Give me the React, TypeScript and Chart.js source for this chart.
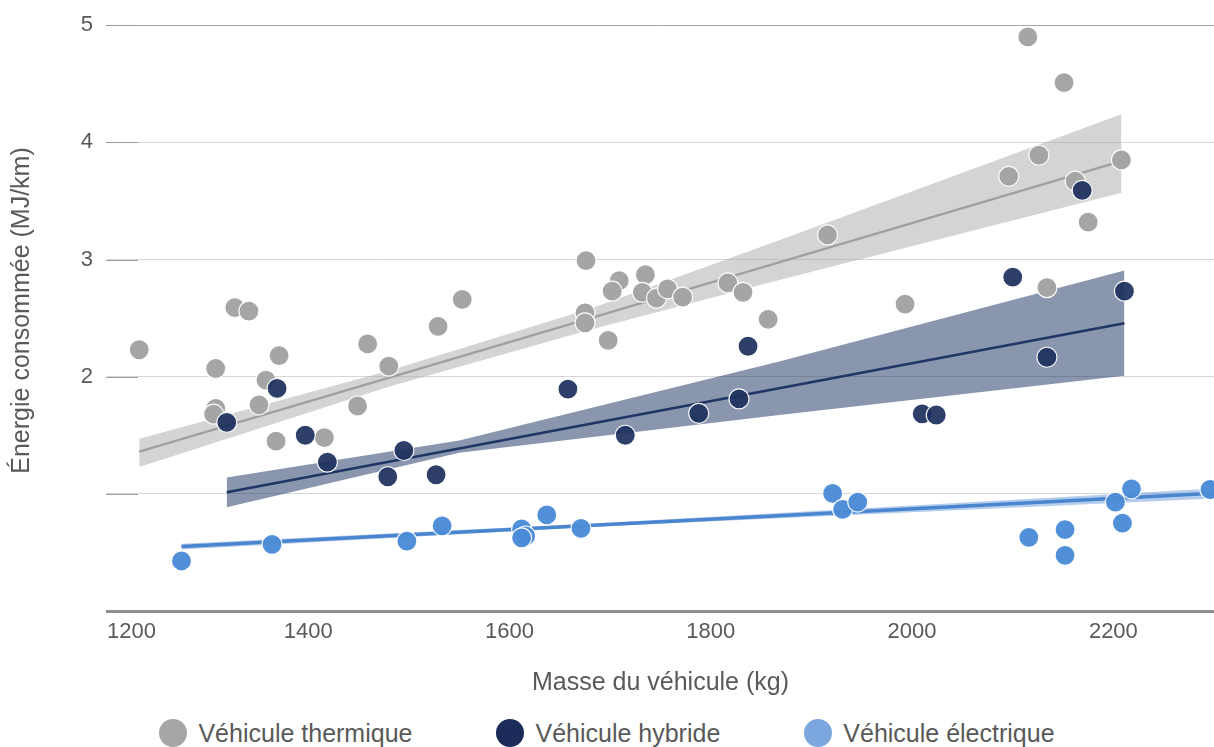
import React, { useEffect, useRef } from "react";
import { Chart, registerables } from "chart.js";

Chart.register(...registerables);

const FONT = '"Liberation Sans", Arial, sans-serif';

// ---- axis ticks ----
const xTicks = [1200, 1400, 1600, 1800, 2000, 2200];
const yTicks = [0, 1, 2, 3, 4, 5];
const yLabelled = [2, 3, 4, 5];

// ---- series names ----
const seriesNames = ["Véhicule thermique", "Véhicule hybride", "Véhicule électrique"];

// ---- thermique points ----
const thermX = [1232, 1327, 1341, 1308, 1371, 1358, 1308, 1306, 1351, 1368, 1459, 1480, 1449, 1416, 1529, 1553,
  1676, 1709, 1702, 1735, 1732, 1746, 1757, 1772, 1817, 1832, 1857, 1675, 1675, 1698, 1916, 1993,
  2096, 2115, 2126, 2134, 2151, 2162, 2175, 2208];
const thermY = [2.23, 2.59, 2.56, 2.07, 2.18, 1.97, 1.73, 1.68, 1.76, 1.45, 2.28, 2.09, 1.75, 1.48, 2.43, 2.66,
  2.99, 2.82, 2.73, 2.87, 2.72, 2.67, 2.75, 2.68, 2.80, 2.72, 2.49, 2.545, 2.46, 2.31, 3.21, 2.62,
  3.71, 4.90, 3.89, 2.76, 4.51, 3.67, 3.32, 3.85];

// ---- hybride points ----
const hybX = [1319, 1369, 1397, 1419, 1479, 1495, 1527, 1658, 1715, 1788, 1828, 1837, 2010, 2024, 2100, 2134, 2169, 2211];
const hybY = [1.61, 1.90, 1.50, 1.27, 1.146, 1.37, 1.163, 1.894, 1.50, 1.687, 1.81, 2.26, 1.683, 1.673, 2.85, 2.166, 3.59, 2.73];

// ---- électrique points ----
const elecX = [1274, 1364, 1498, 1533, 1612, 1616, 1612, 1637, 1671, 1921, 1931, 1946, 2116, 2152, 2152, 2202, 2209, 2218, 2296];
const elecY = [0.427, 0.569, 0.597, 0.727, 0.70, 0.64, 0.625, 0.82, 0.705, 1.004, 0.867, 0.93, 0.629, 0.694, 0.475, 0.929, 0.75, 1.043, 1.037];

// ---- regression lines ----
const thermLineX = [1232, 2208];
const thermLineY = [1.36, 3.84];
const hybLineX = [1319, 2211];
const hybLineY = [1.013, 2.456];
const elecLineX = [1274, 2300];
const elecLineY = [0.55, 1.005];

// ---- confidence bands ----
const thermBandX = [1232, 1480, 1680, 1870, 2208];
const thermBandUpper = [1.47, 2.05, 2.58, 3.17, 4.24];
const thermBandLower = [1.23, 1.915, 2.40, 2.83, 3.57];
const hybBandX = [1319, 1550, 1868, 2211];
const hybBandUpper = [1.14, 1.455, 2.13, 2.906];
const hybBandLower = [0.885, 1.35, 1.673, 2.009];
const elecBandX = [1274, 1700, 2300];
const elecBandUpper = [0.575, 0.755, 1.045];
const elecBandLower = [0.525, 0.725, 0.96];

const pts = (xs: number[], ys: number[]) => xs.map((x, i) => ({ x, y: ys[i] }));

const COL_THERM = "#a5a5a5";
const COL_HYB = "rgba(29,47,94,0.93)";
const COL_ELEC = "rgba(74,139,214,0.96)";
const legendColors = ["#a6a6a6", "#1b2c5a", "#7ba7de"];

const scatterDs = (label: string, xs: number[], ys: number[], color: string, order: number) => ({
  type: "scatter" as const,
  label,
  data: pts(xs, ys),
  backgroundColor: color,
  borderColor: "rgba(255,255,255,0.95)",
  borderWidth: 1.2,
  pointRadius: 10,
  pointHoverRadius: 10,
  order,
});

const lineDs = (xs: number[], ys: number[], color: string, width: number) => ({
  type: "line" as const,
  label: "",
  data: pts(xs, ys),
  borderColor: color,
  borderWidth: width,
  pointRadius: 0,
  fill: false,
  tension: 0,
  order: 10,
});

const bandDs = (xs: number[], ys: number[], color: string, fill: number | boolean) => ({
  type: "line" as const,
  label: "",
  data: pts(xs, ys),
  borderWidth: 0,
  borderColor: "rgba(0,0,0,0)",
  backgroundColor: color,
  pointRadius: 0,
  fill,
  tension: 0,
  order: 20,
});

const tickMarks = {
  id: "tickMarks",
  beforeDatasetsDraw(chart: any) {
    const { ctx, chartArea, scales } = chart;
    const y = scales.y;
    ctx.save();
    ctx.strokeStyle = "#9c9c9c";
    ctx.lineWidth = 1;
    yTicks.filter((v) => v > 0).forEach((v) => {
      const py = Math.round(y.getPixelForValue(v)) + 0.5;
      ctx.beginPath();
      ctx.moveTo(chartArea.left - 1, py);
      ctx.lineTo(chartArea.left + 31, py);
      ctx.stroke();
    });
    ctx.restore();
  },
};

export default function App() {
  const ref = useRef<HTMLCanvasElement>(null);

  useEffect(() => {
    if (!ref.current) return;
    const datasets: any[] = [
      scatterDs(seriesNames[0], thermX, thermY, COL_THERM, 3),
      scatterDs(seriesNames[1], hybX, hybY, COL_HYB, 2),
      scatterDs(seriesNames[2], elecX, elecY, COL_ELEC, 1),
      lineDs(thermLineX, thermLineY, "#a0a0a0", 2.5),
      lineDs(hybLineX, hybLineY, "#1f3564", 2.5),
      lineDs(elecLineX, elecLineY, "#4a86d0", 3.5),
      bandDs(thermBandX, thermBandUpper, "rgba(165,165,165,0.48)", false),
      bandDs(thermBandX, thermBandLower, "rgba(165,165,165,0.48)", 6),
      bandDs(hybBandX, hybBandUpper, "rgba(31,53,100,0.52)", false),
      bandDs(hybBandX, hybBandLower, "rgba(31,53,100,0.52)", 8),
      bandDs(elecBandX, elecBandUpper, "rgba(90,145,215,0.45)", false),
      bandDs(elecBandX, elecBandLower, "rgba(90,145,215,0.45)", 10),
    ];
    const chart = new Chart(ref.current, {
      type: "scatter",
      data: { datasets },
      options: {
        responsive: false,
        animation: false,
        devicePixelRatio: 1,
        layout: { autoPadding: false, padding: { top: 10, right: 0, bottom: 0, left: 0 } },
        plugins: {
          legend: { display: false },
          tooltip: { enabled: false },
        },
        scales: {
          x: {
            type: "linear",
            min: 1200,
            max: 2300,
            afterBuildTicks: (s: any) => {
              s.ticks = xTicks.map((v) => ({ value: v }));
            },
            afterFit: (s: any) => {
              s.height = 99;
              s.paddingLeft = 0;
              s.paddingRight = 0;
            },
            grid: { display: false, drawTicks: false },
            border: { display: true, color: "#8f8f8f", width: 3 },
            ticks: {
              padding: 8,
              color: "#595959",
              font: { family: FONT, size: 22 },
              maxRotation: 0,
              autoSkip: false,
              callback: (v: any) => (v === xTicks[0] ? "        " + v : String(v)),
            },
            title: {
              display: true,
              text: "Masse du véhicule (kg)",
              color: "#595959",
              font: { family: FONT, size: 25 },
              padding: { top: 4, bottom: 12 },
            },
          },
          y: {
            type: "linear",
            min: 0,
            max: 5.13,
            afterBuildTicks: (s: any) => {
              s.ticks = yTicks.map((v) => ({ value: v }));
            },
            afterFit: (s: any) => {
              s.width = 107;
              s.paddingTop = 0;
              s.paddingBottom = 0;
            },
            border: { display: false },
            grid: {
              drawTicks: false,
              lineWidth: 1,
              color: (c: any) => (c.tick && c.tick.value === 5 ? "#a3a3a3" : "#d6d6d6"),
            },
            ticks: {
              padding: 14,
              color: "#595959",
              font: { family: FONT, size: 22 },
              callback: (v: any) => (yLabelled.includes(v) ? String(v) : ""),
            },
            title: {
              display: true,
              text: "Énergie consommée (MJ/km)",
              color: "#595959",
              font: { family: FONT, size: 25 },
              padding: { top: 7, bottom: 0 },
            },
          },
        },
      },
      plugins: [tickMarks],
    } as any);
    return () => chart.destroy();
  }, []);

  return (
    <div style={{ position: "fixed", left: 0, top: 0, width: 1214, height: 747, background: "#fff", fontFamily: FONT }}>
      <canvas ref={ref} width={1214} height={710} style={{ display: "block", width: 1214, height: 710 }} />
      <div
        style={{
          position: "absolute",
          left: 0,
          top: 719,
          width: 1214,
          height: 28,
          display: "flex",
          justifyContent: "center",
          alignItems: "center",
          gap: 84,
        }}
      >
        {seriesNames.map((name, i) => (
          <div key={name} style={{ display: "flex", alignItems: "center" }}>
            <span
              style={{
                display: "inline-block",
                width: 28,
                height: 28,
                borderRadius: "50%",
                background: legendColors[i],
                marginRight: 11,
              }}
            />
            <span style={{ fontSize: 25, color: "#595959", lineHeight: "28px", whiteSpace: "nowrap" }}>{name}</span>
          </div>
        ))}
      </div>
    </div>
  );
}
